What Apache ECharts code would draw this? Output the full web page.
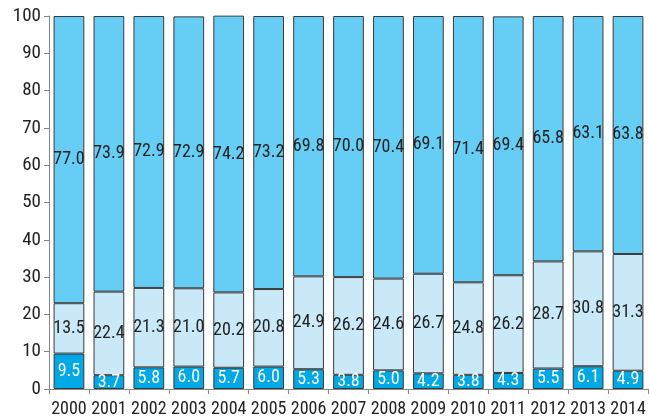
<!DOCTYPE html>
<html><head><meta charset="utf-8">
<script src="https://cdn.jsdelivr.net/npm/echarts@6/dist/echarts.min.js"></script>
<style>html,body{margin:0;padding:0;background:#fff}#c{width:649px;height:419px}</style>
</head><body><div id="c"></div>
<script>
const years = ['2000','2001','2002','2003','2004','2005','2006','2007','2008','2009','2010','2011','2012','2013','2014'];
const bottomVals = [9.5,3.7,5.8,6.0,5.7,6.0,5.3,3.8,5.0,4.2,3.8,4.3,5.5,6.1,4.9];
const middleVals = [13.5,22.4,21.3,21.0,20.2,20.8,24.9,26.2,24.6,26.7,24.8,26.2,28.7,30.8,31.3];
const topVals = [77.0,73.9,72.9,72.9,74.2,73.2,69.8,70.0,70.4,69.1,71.4,69.4,65.8,63.1,63.8];
const yTicks = [0,10,20,30,40,50,60,70,80,90,100];

const FONT = '"Liberation Sans Narrow","Arial Narrow","Roboto Condensed","Liberation Sans",sans-serif';
const chart = echarts.init(document.getElementById('c'));
function mk(name, data, color, labelColor){
  return {
    name, type:'bar', stack:'a', data, barCategoryGap:'23%',
    itemStyle:{color, borderColor:'#3a3a3a', borderWidth:1},
    label:{show:true, position:'inside', color:labelColor, fontFamily:FONT, fontSize:18,
      formatter:p=>p.value.toFixed(1)},
    emphasis:{disabled:true}
  };
}
chart.setOption({
  animation:false,
  grid:{left:49, right:1, top:16, bottom:30},
  xAxis:{type:'category', data:years,
    axisLine:{lineStyle:{color:'#888'}},
    axisTick:{show:true, length:5, lineStyle:{color:'#888'}},
    axisLabel:{color:'#222', fontFamily:FONT, fontSize:18, margin:11, interval:0}},
  yAxis:{type:'value', min:0, max:100, interval:10,
    axisLine:{show:true, lineStyle:{color:'#888'}},
    axisTick:{show:true, length:5, lineStyle:{color:'#888'}},
    splitLine:{show:false},
    axisLabel:{color:'#222', fontFamily:FONT, fontSize:19, margin:8,
      formatter:v=>yTicks.includes(v)?String(v):''}},
  series:[
    mk('bottom', bottomVals, '#00a8e6', '#ffffff'),
    mk('middle', middleVals, '#c9e9f9', '#222222'),
    mk('top', topVals, '#66cdf5', '#222222')
  ]
});
</script></body></html>
